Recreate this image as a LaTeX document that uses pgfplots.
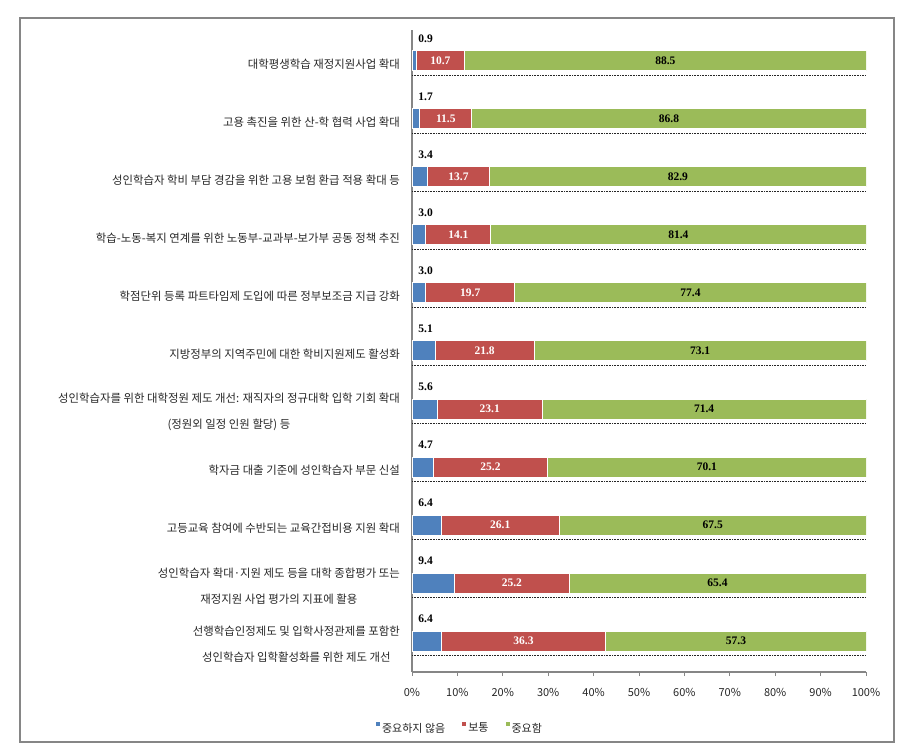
\documentclass[border=0pt]{standalone}
\usepackage{fontspec}
\usepackage{pgfplots}
\usepackage{pgfplotstable}
\pgfplotsset{compat=1.18}
\newfontfamily\kr{Noto Sans CJK KR}
\newfontfamily\vals{Liberation Serif}
\definecolor{cblue}{HTML}{4F81BD}
\definecolor{cred}{HTML}{C0504D}
\definecolor{cgreen}{HTML}{9BBB59}
\definecolor{axgray}{HTML}{868686}

\pgfplotstableread{
y a b c
11 0.9 10.7 88.5
10 1.7 11.5 86.8
9 3.4 13.7 82.9
8 3.0 14.1 81.4
7 3.0 19.7 77.4
6 5.1 21.8 73.1
5 5.6 23.1 71.4
4 4.7 25.2 70.1
3 6.4 26.1 67.5
2 9.4 25.2 65.4
1 6.4 36.3 57.3
}\datatable

% 100% stacked: each share divided by its row total
\def\tot{(\thisrow{a}+\thisrow{b}+\thisrow{c})}

\begin{document}
\begin{tikzpicture}
\path (0pt,0pt) rectangle (909pt,755pt);
\draw[axgray, line width=1.3pt] (20pt,13pt) rectangle (894pt,737pt);
\begin{axis}[
  at={(412pt,83pt)}, anchor=south west,
  scale only axis, width=454pt, height=642pt,
  xbar stacked, bar width=20pt,
  xmin=0, xmax=100, ymin=0.466, ymax=11.534,
  axis lines*=left,
  axis line style={axgray, line width=1.5pt},
  xtick={0,10,...,100},
  xticklabel={\pgfmathprintnumber{\tick}\%},
  /pgf/number format/assume math mode=true,
  xticklabel style={font=\kr\fontsize{11}{13}\selectfont, text=black!85, anchor=base, inner sep=0pt, yshift=-20pt},
  tick align=outside,
  xtick style={axgray, line width=1pt},
  major tick length=4pt,
  ytick={1,...,11},
  ytick style={draw=none},
  yticklabels={
    {선행학습인정제도 및 입학사정관제를 포함한\\성인학습자 입학활성화를 위한 제도 개선},
    {성인학습자 확대·지원 제도 등을 대학 종합평가 또는\\재정지원 사업 평가의 지표에 활용},
    {고등교육 참여에 수반되는 교육간접비용 지원 확대},
    {학자금 대출 기준에 성인학습자 부문 신설},
    {성인학습자를 위한 대학정원 제도 개선: 재직자의 정규대학 입학 기회 확대\\(정원외 일정 인원 할당) 등},
    {지방정부의 지역주민에 대한 학비지원제도 활성화},
    {학점단위 등록 파트타임제 도입에 따른 정부보조금 지급 강화},
    {학습-노동-복지 연계를 위한 노동부-교과부-보가부 공동 정책 추진},
    {성인학습자 학비 부담 경감을 위한 고용 보험 환급 적용 확대 등},
    {고용 촉진을 위한 산-학 협력 사업 확대},
    {대학평생학습 재정지원사업 확대}},
  yticklabel style={font=\kr\fontsize{11.4}{26}\selectfont, text=black!85, align=center, anchor=east, inner sep=0pt, xshift=-8pt, yshift=-3pt},
  extra y ticks={10.759,9.759,8.759,7.759,6.759,5.759,4.759,3.759,2.759,1.759,0.759},
  extra y tick labels={},
  extra y tick style={grid=major, major tick length=0pt,
    major grid style={black!85, line width=0.8pt, dash pattern=on 0.8pt off 0.8pt}},
  legend image code/.code={\fill[#1, draw=none] (0pt,2pt) rectangle (4pt,6pt);},
  legend style={at={(0.1035,-0.0872)}, anchor=center, draw=none, legend columns=3,
    font=\kr\fontsize{11}{13}\selectfont, text=black!85, nodes={inner sep=0pt},
    /tikz/every odd column/.append style={column sep=2pt},
    /tikz/every even column/.append style={column sep=17pt}},
]
\addplot[fill=cblue, draw=white, line width=1pt] table[x expr=100*\thisrow{a}/\tot, y=y]{\datatable};
\addplot[fill=cred, draw=white, line width=1pt] table[x expr=100*\thisrow{b}/\tot, y=y]{\datatable};
\addplot[fill=cgreen, draw=white, line width=1pt] table[x expr=100*\thisrow{c}/\tot, y=y]{\datatable};
\legend{중요하지 않음, 보통, 중요함}
\end{axis}
\begin{axis}[
  at={(412pt,83pt)}, anchor=south west,
  scale only axis, width=454pt, height=642pt,
  xmin=0, xmax=100, ymin=0.466, ymax=11.534,
  hide axis, clip=false,
  nodes near coords align={center},
]
\addplot[only marks, mark=none,
  nodes near coords, point meta=explicit symbolic,
  every node near coord/.append style={anchor=center, yshift=22pt, text=black, font=\vals\bfseries\fontsize{11.5}{13}\selectfont}]
  table[x expr=3.0, y=y, meta=a]{\datatable};
\addplot[only marks, mark=none,
  nodes near coords, point meta=explicit symbolic,
  every node near coord/.append style={anchor=center, text=white, font=\vals\bfseries\fontsize{11.5}{13}\selectfont}]
  table[x expr=100*(\thisrow{a}+0.5*\thisrow{b})/\tot, y=y, meta=b]{\datatable};
\addplot[only marks, mark=none,
  nodes near coords, point meta=explicit symbolic,
  every node near coord/.append style={anchor=center, text=black, font=\vals\bfseries\fontsize{11.5}{13}\selectfont}]
  table[x expr=100*(\thisrow{a}+\thisrow{b}+0.5*\thisrow{c})/\tot, y=y, meta=c]{\datatable};
\end{axis}
\end{tikzpicture}
\end{document}
